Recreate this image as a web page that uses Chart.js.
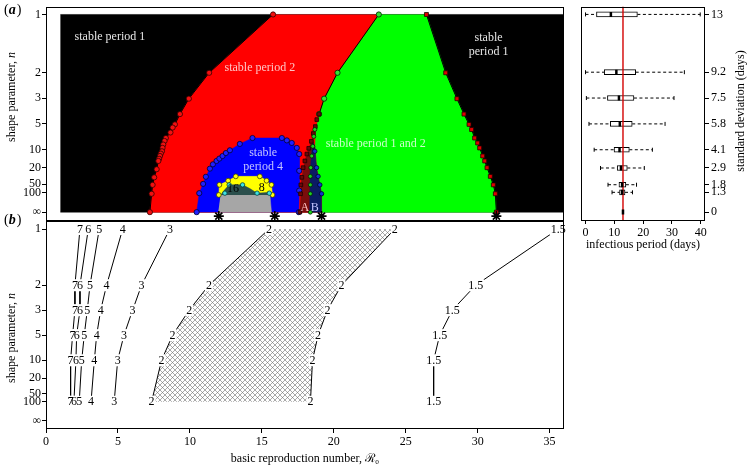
<!DOCTYPE html>
<html>
<head>
<meta charset="utf-8">
<script src="https://cdn.jsdelivr.net/npm/chart.js@4.4.1/dist/chart.umd.min.js"></script>
<style>
  html, body { margin: 0; padding: 0; background: #fff; }
  #wrap { position: relative; width: 752px; height: 467px; overflow: hidden; }
  #wrap canvas { position: absolute; left: 0; top: 0; }
</style>
</head>
<body>
<div id="wrap">
  <canvas id="panelA" width="752" height="467"></canvas>
  <canvas id="panelB" width="752" height="467"></canvas>
  <canvas id="panelC" width="752" height="467"></canvas>
</div>
<script>
const SERIF = "'Liberation Serif', 'Times New Roman', serif";
Chart.defaults.font.family = SERIF;
Chart.defaults.font.size = 12;
Chart.defaults.color = '#000';
Chart.defaults.animation = false;

// shape parameter axis (drawn in 1/sqrt(n))
const nTicks = [1, 2, 3, 5, 10, 20, 50, 100, Infinity];
const nTickLabels = ['1', '2', '3', '5', '10', '20', '50', '100', '\u221e'];
const cv = n => 1 / Math.sqrt(n);
const r0Range = [1, 36];
const r0Ticks = [0, 5, 10, 15, 20, 25, 30, 35];

// (a) region edges, [R0, 1/sqrt(n)]
const edgeP1toP2 = [[15.78, 1.0], [11.34, 0.705], [9.93, 0.574], [9.31, 0.496], [8.96, 0.444], [8.80, 0.428],
  [8.65, 0.403], [8.33, 0.375], [8.24, 0.36], [8.15, 0.342], [8.10, 0.325], [8.06, 0.308], [7.98, 0.296],
  [7.92, 0.284], [7.86, 0.27], [7.81, 0.259], [7.69, 0.217], [7.52, 0.176], [7.41, 0.138], [7.34, 0.093], [7.22, 0]];
const edgeP2toBoth = [[23.13, 1.0], [20.26, 0.705], [19.33, 0.574], [18.98, 0.496], [18.72, 0.418], [18.68, 0.333],
  [18.80, 0.225], [18.91, 0.181], [19.03, 0.138], [19.15, 0.093], [19.15, 0]];
const edgeBothToP1 = [[26.44, 1.0], [27.78, 0.705], [28.56, 0.574], [29.05, 0.496], [29.40, 0.444], [29.58, 0.418],
  [29.79, 0.375], [30.00, 0.350], [30.14, 0.325], [30.35, 0.284], [30.49, 0.259], [30.65, 0.225], [30.88, 0.181],
  [31.09, 0.138], [31.23, 0.093], [31.30, 0]];
const edgeP4 = [[10.47, 0], [10.65, 0.096], [10.92, 0.143], [11.11, 0.179], [11.39, 0.220], [11.60, 0.242],
  [11.85, 0.259], [12.05, 0.271], [12.27, 0.284], [12.50, 0.299], [12.78, 0.313], [13.47, 0.345], [14.35, 0.375],
  [16.39, 0.375], [16.74, 0.363], [17.08, 0.350], [17.43, 0.325], [17.60, 0.294], [17.60, 0.209], [17.60, 0.109], [17.57, 0]];
const edgeP8 = [[12.01, 0.087], [12.05, 0.138], [12.66, 0.159], [13.19, 0.181], [14.86, 0.181], [15.33, 0.159],
  [15.67, 0.138], [15.74, 0.087]];
const edgeP16 = [[12.15, 0.087], [12.43, 0.114], [12.73, 0.138], [13.66, 0.138], [14.17, 0.119], [14.67, 0.096],
  [15.42, 0.1], [15.52, 0.087]];
const mark16 = [[12.43, 0.096], [12.73, 0.138], [13.66, 0.138], [14.67, 0.096], [15.52, 0.096]];
const edgeChaos = [[11.97, 0], [15.67, 0], [15.56, 0.087], [12.13, 0.087]];
const edgeA = [[17.64, 0], [18.30, 0], [18.33, 0.184], [18.47, 0.308], [18.68, 0.418], [18.44, 0.358], [17.99, 0.259], [17.74, 0.159]];
const edgeB = [[18.30, 0], [19.15, 0], [19.15, 0.093], [19.03, 0.138], [18.91, 0.181], [18.80, 0.225], [18.68, 0.333],
  [18.54, 0.358], [18.47, 0.308], [18.33, 0.184]];
const markA = [[18.98, 0.496], [18.82, 0.468], [18.72, 0.433], [18.58, 0.398], [18.44, 0.358], [18.26, 0.323],
  [18.13, 0.294], [17.99, 0.259], [17.87, 0.225], [17.78, 0.176], [17.71, 0.138], [17.69, 0.093], [17.64, 0]];
const markAB = [[18.37, 0], [18.37, 0.093], [18.37, 0.138], [18.37, 0.181], [18.40, 0.225], [18.47, 0.284],
  [18.54, 0.333], [18.61, 0.383], [18.68, 0.418]];
const markB = [[19.15, 0.093], [19.03, 0.138], [18.91, 0.181], [18.80, 0.225], [18.68, 0.308]];
const stableR0 = [12.01, 15.90, 19.15, 31.30];

// (b) contours: R0 at each n row
const contourRows = [1, 2, 3, 5, 10, 100];
const contour7 = [2.36, 2.01, 2.01, 1.85, 1.71, 1.71];
const contour6 = [2.94, 2.36, 2.36, 2.13, 2.08, 1.94];
const contour5 = [3.70, 3.06, 2.87, 2.66, 2.48, 2.31];
const contour4 = [5.33, 4.21, 3.80, 3.52, 3.36, 3.13];
const contour3 = [8.61, 6.64, 6.02, 5.42, 4.98, 4.74];
const contour2Left = [15.5, 11.32, 9.95, 8.80, 8.03, 7.34];
const contour2Right = [24.24, 20.53, 19.56, 18.91, 18.52, 18.38];
const contour15 = [35.6, 29.86, 28.24, 27.36, 26.94, 26.94];

// right panel: infectious period box plots per standard deviation
const sdTicks = [13, 9.2, 7.5, 5.8, 4.1, 2.9, 1.8, 1.3, 0];
const sdTickLabels = ['13', '9.2', '7.5', '5.8', '4.1', '2.9', '1.8', '1.3', '0'];
const periodTicks = [0, 10, 20, 30, 40];
const whiskerLow = [0, 0, 0.3, 1.2, 3.0, 5.2, 7.8, 9.2, 13];
const boxQ1 = [3.8, 6.5, 7.6, 8.6, 9.9, 11.0, 11.6, 11.8, 13];
const boxMedian = [8.8, 10.7, 11.6, 11.9, 11.8, 12.3, 12.7, 12.7, 13];
const boxQ3 = [18.0, 17.4, 16.8, 16.2, 15.2, 14.5, 14.0, 13.7, 13];
const whiskerHigh = [39.8, 34.3, 30.7, 27.6, 23.2, 20.4, 17.7, 16.3, 13];
const meanPeriod = 13;

const pts = arr => arr.map(([x, y]) => ({x, y}));

function polygon(arr, color) {
  return {type: 'scatter', data: pts(arr), showLine: true, fill: 'shape', backgroundColor: color,
    borderColor: color, borderWidth: 0.5, pointRadius: 0};
}
function markers(arr, fillCol, edgeCol, style, r, line) {
  return {type: 'scatter', data: pts(arr), showLine: !!line, borderColor: '#000', borderWidth: 1, fill: false,
    pointStyle: style, pointRadius: r, pointBackgroundColor: fillCol, pointBorderColor: edgeCol, pointBorderWidth: 0.8};
}
function ordered(list) {
  list.forEach((d, i) => { d.order = list.length - i; });
  return list;
}

function yAxisN(min, max) {
  return {
    type: 'linear', position: 'left', min, max,
    afterBuildTicks: s => { s.ticks = nTicks.map(n => ({value: cv(n)})); },
    afterFit: s => { s.width = 46; s.paddingTop = 0; s.paddingBottom = 0; },
    ticks: {autoSkip: false, padding: 1, callback: (v, i) => nTickLabels[i]},
    grid: {drawOnChartArea: false, tickLength: 4, color: '#000'},
    border: {display: false}
  };
}

function drawYTitle(ctx, x, y, main, ital) {
  ctx.save();
  ctx.translate(x, y);
  ctx.rotate(-Math.PI / 2);
  ctx.font = `12px ${SERIF}`;
  const w1 = ctx.measureText(main).width;
  ctx.font = `italic 12px ${SERIF}`;
  const w2 = ital ? ctx.measureText(ital).width : 0;
  const sx = -(w1 + w2) / 2;
  ctx.textBaseline = 'middle';
  ctx.textAlign = 'left';
  ctx.fillStyle = '#000';
  ctx.font = `12px ${SERIF}`;
  ctx.fillText(main, sx, 0);
  if (ital) {
    ctx.font = `italic 12px ${SERIF}`;
    ctx.fillText(ital, sx + w1, 0);
  }
  ctx.restore();
}

const frame = {
  id: 'frame',
  afterDraw(chart) {
    const {ctx, chartArea: a} = chart;
    ctx.save();
    ctx.strokeStyle = '#000';
    ctx.lineWidth = 1;
    ctx.strokeRect(Math.round(a.left) + 0.5, Math.round(a.top) + 0.5, Math.round(a.right - a.left) - 1, Math.round(a.bottom - a.top) - 1);
    ctx.restore();
  }
};

// ---------- panel (a) ----------
const regionLabels = [
  {text: 'stable period 1', at: [4.44, 0.886], color: '#e6e6e6'},
  {text: 'stable period 2', at: [14.86, 0.728], color: '#ffc4c4'},
  {text: 'stable', at: [30.76, 0.881], color: '#e6e6e6'},
  {text: 'period 1', at: [30.76, 0.809], color: '#e6e6e6'},
  {text: 'stable period 1 and 2', at: [22.92, 0.345], color: '#c8ffc8'},
  {text: 'stable', at: [15.09, 0.30], color: '#c4c4ff'},
  {text: 'period 4', at: [15.09, 0.229], color: '#c4c4ff'},
  {text: '16', at: [12.99, 0.119], color: '#000'},
  {text: '8', at: [15.0, 0.124], color: '#000'},
  {text: 'A', at: [17.99, 0.023], color: '#ffc4c4'},
  {text: 'B', at: [18.68, 0.023], color: '#c4c4ff'}
];

const regionText = {
  id: 'regionText',
  afterDatasetsDraw(chart) {
    const {ctx, scales: {x, y}} = chart;
    ctx.save();
    ctx.textAlign = 'center';
    ctx.textBaseline = 'middle';
    regionLabels.forEach(l => {
      ctx.font = `12px ${SERIF}`;
      ctx.fillStyle = l.color;
      ctx.fillText(l.text, x.getPixelForValue(l.at[0]), y.getPixelForValue(l.at[1]));
    });
    ctx.restore();
  },
  afterDraw(chart) {
    const {ctx} = chart;
    drawYTitle(ctx, 12, 97, 'shape parameter, ', 'n');
    ctx.save();
    ctx.fillStyle = '#000';
    ctx.textBaseline = 'middle';
    ctx.textAlign = 'left';
    [['a', 10], ['b', 220]].forEach(([t, yy]) => {
      ctx.font = `14px ${SERIF}`;
      ctx.fillText('(', 4, yy);
      const w = ctx.measureText('(').width;
      ctx.font = `italic bold 14px ${SERIF}`;
      ctx.fillText(t, 4 + w, yy);
      const w2 = ctx.measureText(t).width;
      ctx.font = `14px ${SERIF}`;
      ctx.fillText(')', 4 + w + w2 + 1, yy);
    });
    ctx.restore();
  }
};

const background = [[r0Range[0], 0], [r0Range[1], 0], [r0Range[1], 1], [r0Range[0], 1]];
const greenArea = edgeP2toBoth.concat(edgeBothToP1.slice().reverse());
const redArea = edgeP1toP2.concat(edgeP2toBoth.slice().reverse());

const datasetsA = ordered([
  polygon(background, '#000000'),
  polygon(greenArea, '#00ff00'),
  polygon(redArea, '#ff0000'),
  polygon(edgeP4, '#0000ff'),
  polygon(edgeChaos, '#a6a6a6'),
  polygon(edgeP8, '#ffff00'),
  polygon(edgeP16, '#2b4f4c'),
  polygon(edgeA, '#7a0c0c'),
  polygon(edgeB, '#0b1b63'),
  markers(edgeP1toP2, '#f01010', '#300000', 'circle', 2.6, true),
  markers(edgeP2toBoth.slice(0, 4), '#33e033', '#002000', 'circle', 2.6, true),
  markers(edgeBothToP1, '#e00000', '#200000', 'rect', 2.8, true),
  markers(edgeP4, '#2020ff', '#000030', 'circle', 2.6, false),
  markers(edgeP8, '#ffff10', '#404000', 'circle', 2.4, false),
  markers(mark16, '#40e0e0', '#004040', 'circle', 2.2, false),
  markers(markA, '#6a0808', '#200000', 'rect', 2.6, false),
  markers(markAB, '#20d020', '#002000', 'circle', 2.0, false),
  markers(markB, '#1030d0', '#000020', 'circle', 2.2, false),
  {type: 'scatter', data: stableR0.map(r => ({x: r, y: -0.02})), pointStyle: 'star', pointRadius: 5,
    pointBorderColor: '#000', pointBorderWidth: 1.6, pointBackgroundColor: '#000'}
]);

new Chart(document.getElementById('panelA'), {
  type: 'scatter',
  data: {datasets: datasetsA},
  options: {
    responsive: false,
    layout: {padding: {left: 0, top: 3, right: 188, bottom: 246}},
    plugins: {legend: {display: false}, tooltip: {enabled: false}},
    scales: {
      x: {type: 'linear', min: 0, max: 36, display: false},
      y: yAxisN(-0.0448, 1.0398)
    }
  },
  plugins: [regionText, frame]
});

// ---------- panel (b) ----------
const hatchCanvas = document.createElement('canvas');
hatchCanvas.width = 5;
hatchCanvas.height = 5;
(() => {
  const c = hatchCanvas.getContext('2d');
  c.strokeStyle = '#6e6e6e';
  c.lineWidth = 0.6;
  c.beginPath();
  c.moveTo(-1, -1); c.lineTo(6, 6);
  c.moveTo(-1, 6); c.lineTo(6, -1);
  c.stroke();
})();
const hatch = document.createElement('canvas').getContext('2d').createPattern(hatchCanvas, 'repeat');

function contour(values, label) {
  return {type: 'scatter', data: contourRows.map((n, i) => ({x: values[i], y: cv(n)})), showLine: true,
    borderColor: '#000', borderWidth: 1, pointRadius: 0, fill: false, contour: label};
}
const hatchArea = contourRows.map((n, i) => [contour2Left[i], cv(n)]).reverse()
  .concat(contourRows.map((n, i) => [contour2Right[i], cv(n)]));

const datasetsB = ordered([
  Object.assign(polygon(hatchArea, hatch), {borderWidth: 0}),
  contour(contour7, '7'),
  contour(contour6, '6'),
  contour(contour5, '5'),
  contour(contour4, '4'),
  contour(contour3, '3'),
  contour(contour2Left, '2'),
  contour(contour2Right, '2'),
  contour(contour15, '1.5')
]);

const contourText = {
  id: 'contourText',
  afterDatasetsDraw(chart) {
    const {ctx} = chart;
    ctx.save();
    ctx.font = `12px ${SERIF}`;
    ctx.textAlign = 'center';
    ctx.textBaseline = 'middle';
    const items = [];
    chart.data.datasets.forEach((ds, i) => {
      if (!ds.contour) return;
      chart.getDatasetMeta(i).data.forEach(p => items.push([ds.contour, p.x, p.y]));
    });
    ctx.fillStyle = '#fff';
    items.forEach(([t, px, py]) => {
      const w = ctx.measureText(t).width + 2;
      ctx.fillRect(px - w / 2, py - 6, w, 12);
    });
    ctx.fillStyle = '#000';
    items.forEach(([t, px, py]) => ctx.fillText(t, px, py + 0.5));
    ctx.restore();
  },
  afterDraw(chart) {
    drawYTitle(chart.ctx, 12, 338, 'shape parameter, ', 'n');
  }
};

new Chart(document.getElementById('panelB'), {
  type: 'scatter',
  data: {datasets: datasetsB},
  options: {
    responsive: false,
    layout: {padding: {left: 0, top: 221, right: 188, bottom: 0}},
    plugins: {legend: {display: false}, tooltip: {enabled: false}},
    scales: {
      x: {
        type: 'linear', min: 0, max: 36,
        afterBuildTicks: s => { s.ticks = r0Ticks.map(value => ({value})); },
        afterFit: s => { s.height = 38; s.paddingLeft = 0; s.paddingRight = 0; },
        ticks: {padding: 2, maxRotation: 0, autoSkip: false},
        grid: {drawOnChartArea: false, tickLength: 4, color: '#000'},
        border: {display: false},
        title: {display: true, text: 'basic reproduction number, \u211b\u2080', padding: {top: 0, bottom: 1}}
      },
      y: yAxisN(-0.0417, 1.0417)
    }
  },
  plugins: [contourText, frame]
});

// ---------- right panel ----------
const sdMin = -0.52, sdMax = 13.52;
const whiskers = [];
sdTicks.forEach((sd, i) => {
  if (whiskerHigh[i] === whiskerLow[i]) return;
  [[whiskerLow[i], boxQ1[i], [2, 0]], [boxQ3[i], whiskerHigh[i], [0, 2]]].forEach(([a, b, r]) => {
    whiskers.push({type: 'scatter', data: [{x: a, y: sd}, {x: b, y: sd}], showLine: true, borderColor: '#000',
      borderWidth: 1, borderDash: [3, 2.5], pointStyle: 'line', rotation: 90, pointRadius: r,
      pointBorderColor: '#000', pointBorderWidth: 1});
  });
});

const datasetsC = ordered([
  ...whiskers,
  {type: 'bar', indexAxis: 'y', data: sdTicks.map((sd, i) => ({x: [boxQ1[i], boxQ3[i]], y: sd})),
    backgroundColor: '#fff', borderColor: '#000', borderWidth: 1, borderSkipped: false, barThickness: 5},
  {type: 'scatter', data: [{x: meanPeriod, y: sdMin}, {x: meanPeriod, y: sdMax}], showLine: true,
    borderColor: '#d40000', borderWidth: 1.4, pointRadius: 0},
  {type: 'scatter', data: sdTicks.map((sd, i) => ({x: boxMedian[i], y: sd})), pointStyle: 'line', rotation: 90,
    pointRadius: 2.5, pointBorderWidth: 2.5, pointBorderColor: '#000'}
]);

const sdTitle = {
  id: 'sdTitle',
  afterDraw(chart) {
    drawYTitle(chart.ctx, 741, 111, 'standard deviation (days)', '');
  }
};

new Chart(document.getElementById('panelC'), {
  type: 'scatter',
  data: {datasets: datasetsC},
  options: {
    responsive: false,
    layout: {padding: {left: 581, top: 3, right: 0, bottom: 215}},
    plugins: {legend: {display: false}, tooltip: {enabled: false}},
    scales: {
      x: {
        type: 'linear', min: -1.57, max: 41.46, offset: false,
        afterBuildTicks: s => { s.ticks = periodTicks.map(value => ({value})); },
        afterFit: s => { s.height = 32; s.paddingLeft = 0; s.paddingRight = 0; },
        ticks: {padding: 2, maxRotation: 0, autoSkip: false},
        grid: {drawOnChartArea: false, tickLength: 4, color: '#000', offset: false},
        border: {display: false},
        title: {display: true, text: 'infectious period (days)', padding: 0}
      },
      y: {
        type: 'linear', position: 'right', min: sdMin, max: sdMax, offset: false,
        afterBuildTicks: s => { s.ticks = sdTicks.map(value => ({value})); },
        afterFit: s => { s.width = 47; s.paddingTop = 0; s.paddingBottom = 0; },
        ticks: {autoSkip: false, padding: 2, callback: (v, i) => sdTickLabels[i]},
        grid: {drawOnChartArea: false, tickLength: 4, color: '#000', offset: false},
        border: {display: false}
      }
    }
  },
  plugins: [sdTitle, frame]
});
</script>
</body>
</html>
